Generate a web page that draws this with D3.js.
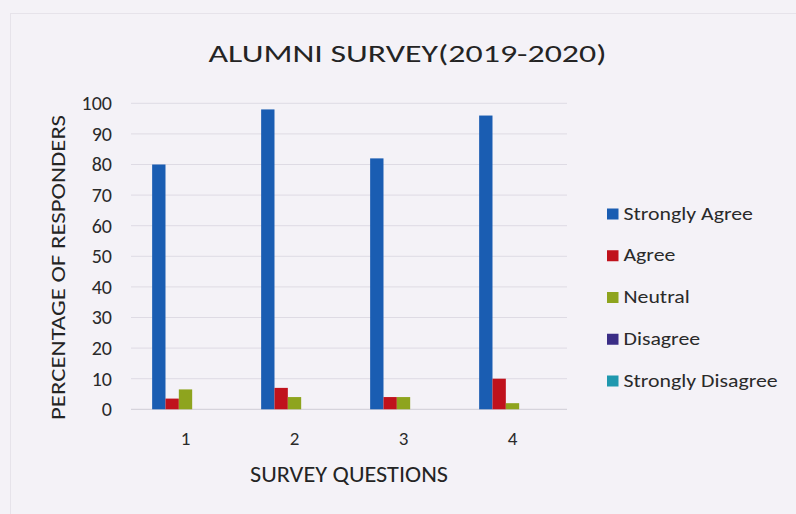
<!DOCTYPE html>
<html><head><meta charset="utf-8">
<script src="https://cdn.jsdelivr.net/npm/d3@7"></script>
<style>
html,body{margin:0;padding:0;background:#f4f2f7;}
svg{display:block;font-family:Carlito,Lato,"Open Sans",sans-serif;}
</style></head><body>
<svg id="chart" width="796" height="514"></svg>
<script>
const questions = ["1","2","3","4"];
const seriesNames = ["Strongly Agree","Agree","Neutral","Disagree","Strongly Disagree"];
const stronglyAgree = [80, 98, 82, 96];
const agree = [3.5, 7, 4, 10];
const neutral = [6.5, 4, 4, 2];
const disagree = [0, 0, 0, 0];
const stronglyDisagree = [0, 0, 0, 0];
const yTicks = [0,10,20,30,40,50,60,70,80,90,100];
const colors = ["#1a5db2","#c0121c","#8ea41e","#3a2d86","#1f98ae"];

const seriesValues = [stronglyAgree, agree, neutral, disagree, stronglyDisagree];
const svg = d3.select("#chart");
const W = 796, H = 514;
const m = {left:131, right:567, top:103.3, bottom:409.3};
const FONT = "Carlito,Lato,'Open Sans',sans-serif";
const TXT = "#2a2a2a";

svg.append("rect").attr("x",0).attr("y",0).attr("width",W).attr("height",H).attr("fill","#f4f2f7");
svg.append("rect").attr("x",10.5).attr("y",13.5).attr("width",790).attr("height",510)
  .attr("fill","none").attr("stroke","#e6e3ea").attr("stroke-width",1);

const x0 = d3.scaleBand().domain(questions).range([m.left, m.right]).paddingInner(0.388).paddingOuter(0.194);
const x1 = d3.scaleBand().domain(seriesNames).range([0, x0.bandwidth()]);
const y = d3.scaleLinear().domain([0,100]).range([m.bottom, m.top]);

// gridlines
svg.append("g").selectAll("line").data(yTicks).join("line")
  .attr("x1", m.left).attr("x2", m.right)
  .attr("y1", d=>y(d)).attr("y2", d=>y(d))
  .attr("stroke", d=> d===0 ? "#cfccd5" : "#dedbe4").attr("stroke-width",1);

// y axis labels
const yAxis = d3.axisLeft(y).tickValues(yTicks).tickSize(0).tickPadding(19);
const gy = svg.append("g").attr("transform",`translate(${m.left},0)`).call(yAxis);
gy.select(".domain").remove();
gy.selectAll("text").attr("font-size",20).attr("fill",TXT).attr("font-family",FONT);

// x axis labels
const xAxis = d3.axisBottom(x0).tickSize(0).tickPadding(0);
const gx = svg.append("g").attr("transform",`translate(0,${m.bottom})`).call(xAxis);
gx.select(".domain").remove();
gx.selectAll("text").attr("font-size",19).attr("fill",TXT).attr("font-family",FONT)
  .attr("dy",null).attr("y",35.5);

// bars
const groups = svg.append("g").selectAll("g").data(questions).join("g")
  .attr("transform", q=>`translate(${x0(q)},0)`);
groups.selectAll("rect").data((q,i)=>seriesNames.map((s,j)=>({s, v: seriesValues[j][i], c: colors[j]})))
  .join("rect")
  .attr("x", d=>x1(d.s)).attr("width", x1.bandwidth())
  .attr("y", d=>y(d.v)).attr("height", d=>y(0)-y(d.v))
  .attr("fill", d=>d.c);

// title
svg.append("text").attr("x",407.5).attr("y",62).attr("text-anchor","middle")
  .attr("font-size",23.5).attr("fill","#242424")
  .attr("textLength",398).attr("lengthAdjust","spacingAndGlyphs")
  .text("ALUMNI SURVEY(2019-2020)");
// axis titles
svg.append("text").attr("transform","translate(65,267.5) rotate(-90)").attr("text-anchor","middle")
  .attr("font-size",21).attr("fill","#242424")
  .attr("textLength",305).attr("lengthAdjust","spacingAndGlyphs")
  .text("PERCENTAGE OF RESPONDERS");
svg.append("text").attr("x",349).attr("y",482).attr("text-anchor","middle")
  .attr("font-size",21.5).attr("fill","#242424")
  .attr("textLength",198).attr("lengthAdjust","spacingAndGlyphs")
  .text("SURVEY QUESTIONS");

// legend
const legY = d3.scalePoint().domain(seriesNames).range([214, 381]);
const lg = svg.append("g").selectAll("g").data(seriesNames).join("g")
  .attr("transform", d=>`translate(607,${legY(d)})`);
lg.append("rect").attr("x",0).attr("y",-5.5).attr("width",11.5).attr("height",11)
  .attr("fill",(d,i)=>colors[i]);
lg.append("text").attr("x",16.5).attr("y",5.5).attr("font-size",17.5).attr("fill",TXT)
  .text(d=>d)
  .each(function(){ const w = this.getComputedTextLength();
    d3.select(this).attr("textLength", w*1.245).attr("lengthAdjust","spacingAndGlyphs"); });
</script>
</body></html>
